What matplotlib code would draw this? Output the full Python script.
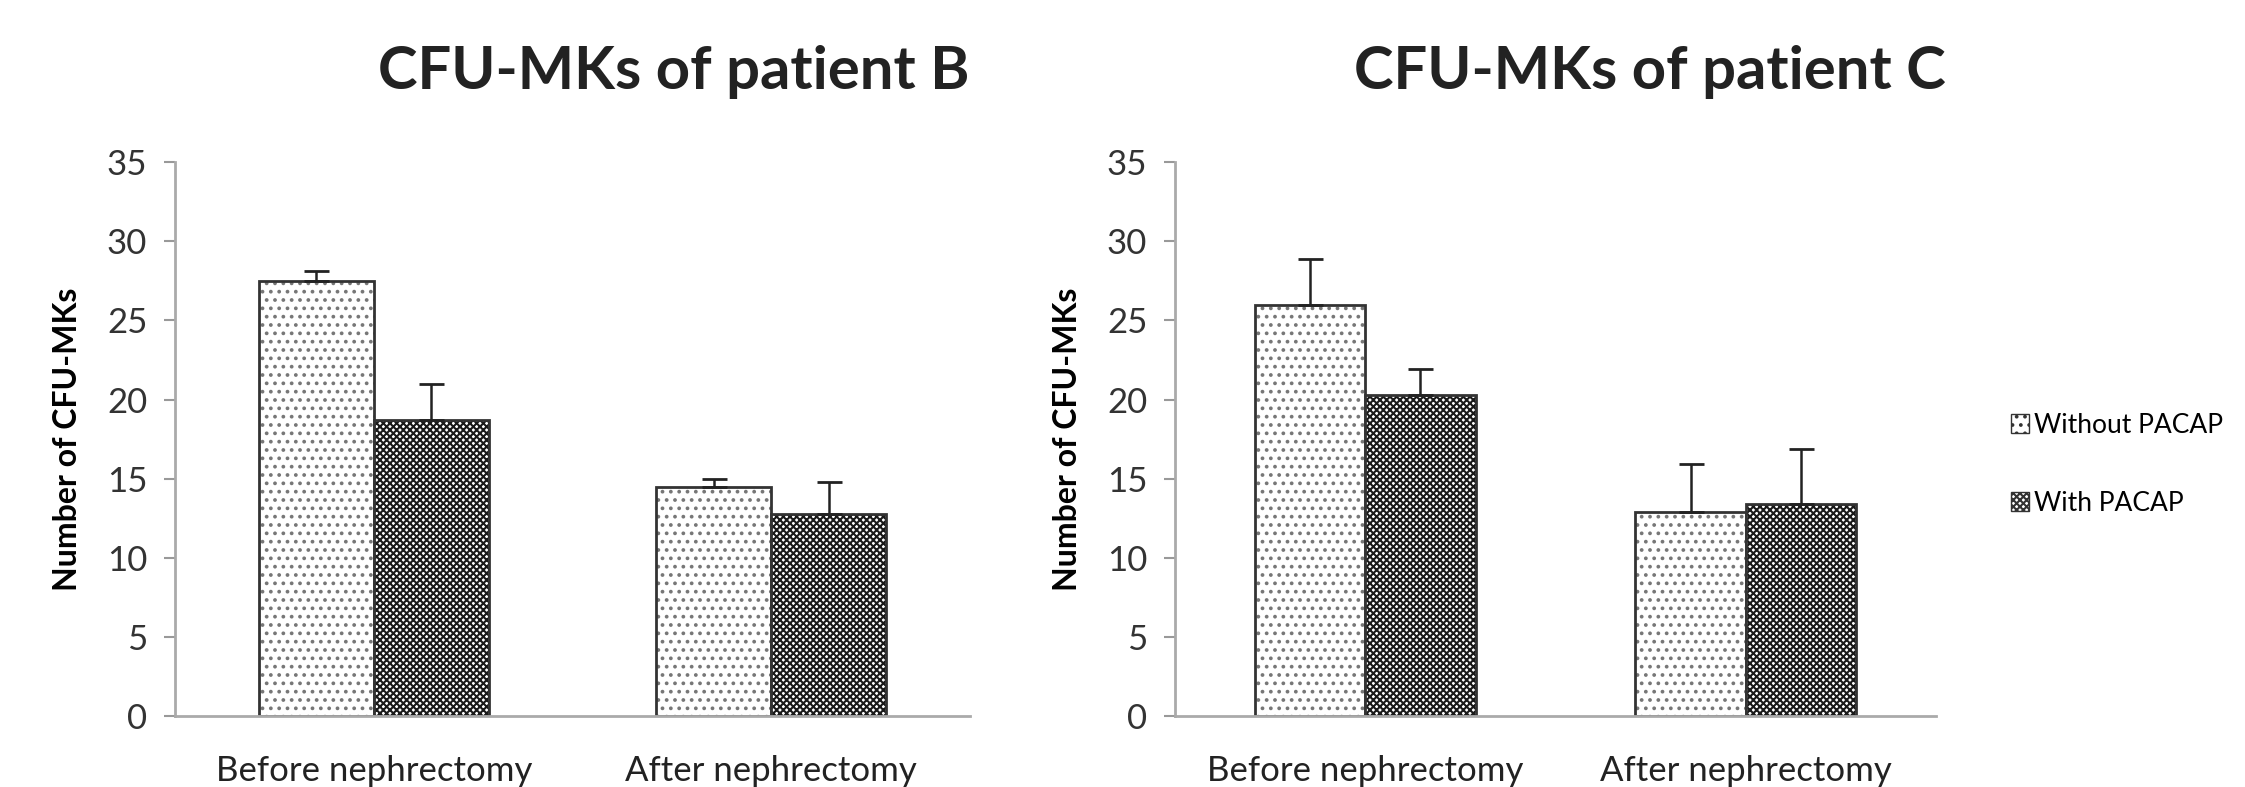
import numpy as np
import matplotlib
matplotlib.use('Agg')
import matplotlib.pyplot as plt
from matplotlib.patches import Patch

plt.rcParams['font.family'] = ['Lato', 'DejaVu Sans']
plt.rcParams['hatch.linewidth'] = 1.5

# data
groups = ['Before nephrectomy', 'After nephrectomy']
series = ['Without PACAP', 'With PACAP']

b_without = [27.5, 14.5]
b_without_err = [0.6, 0.5]
b_with = [18.7, 12.8]
b_with_err = [2.3, 2.0]

c_without = [26.0, 12.9]
c_without_err = [2.9, 3.0]
c_with = [20.3, 13.4]
c_with_err = [1.6, 3.5]

titles = ['CFU-MKs of patient B', 'CFU-MKs of patient C']

fig = plt.figure(figsize=(22.45, 7.87), dpi=100)
ax1 = fig.add_axes([0.078, 0.090, 0.354, 0.704])
ax2 = fig.add_axes([0.5234, 0.090, 0.339, 0.704])

styles = [dict(hatch='..', hcol='#777777'), dict(hatch='xxxxx', hcol='#1a1a1a')]
bw = 0.29

def draw(ax, vals, errs):
    x = np.arange(len(groups))
    for i, (v, e) in enumerate(zip(vals, errs)):
        pos = x + (i - 0.5) * bw
        st = styles[i]
        ax.bar(pos, v, bw, color='white', edgecolor=st['hcol'], hatch=st['hatch'], linewidth=0)
        ax.bar(pos, v, bw, fill=False, edgecolor='#333333', linewidth=2)
        ax.errorbar(pos, v, yerr=[np.zeros(len(e)), e], fmt='none', ecolor='#222222',
                    elinewidth=1.8, capsize=9, capthick=2)
    ax.set_xlim(-0.5, 1.5)
    ax.set_ylim(0, 35)
    ax.set_yticks(range(0, 36, 5))
    ax.set_xticks(x)
    ax.set_xticklabels(groups, fontsize=25, color='#222222')
    ax.tick_params(axis='x', length=0, pad=28)
    ax.tick_params(axis='y', labelsize=25, labelcolor='#333333', color='#999999',
                   length=8, width=1.5, pad=12)
    for s in ['top', 'right']:
        ax.spines[s].set_visible(False)
    for s in ['left', 'bottom']:
        ax.spines[s].set_color('#aaaaaa')
        ax.spines[s].set_linewidth(2)
    ax.set_ylabel('Number of CFU-MKs', fontsize=23, fontweight='bold', labelpad=18)

draw(ax1, [b_without, b_with], [b_without_err, b_with_err])
draw(ax2, [c_without, c_with], [c_without_err, c_with_err])

fig.text(0.300, 0.908, titles[0], ha='center', va='center', fontsize=43, fontweight='bold', color='#222222')
fig.text(0.735, 0.908, titles[1], ha='center', va='center', fontsize=43, fontweight='bold', color='#222222')

handles = [Patch(facecolor='white', edgecolor='#333333', hatch=styles[0]['hatch'], label=series[0]),
           Patch(facecolor='white', edgecolor='#333333', hatch=styles[1]['hatch'], label=series[1])]
fig.legend(handles=handles, loc='center left', bbox_to_anchor=(0.885, 0.41), frameon=False,
           fontsize=19, handlelength=0.7, handleheight=0.7, handletextpad=0.2, labelspacing=2.0)

fig.savefig('out.png', dpi=100)
